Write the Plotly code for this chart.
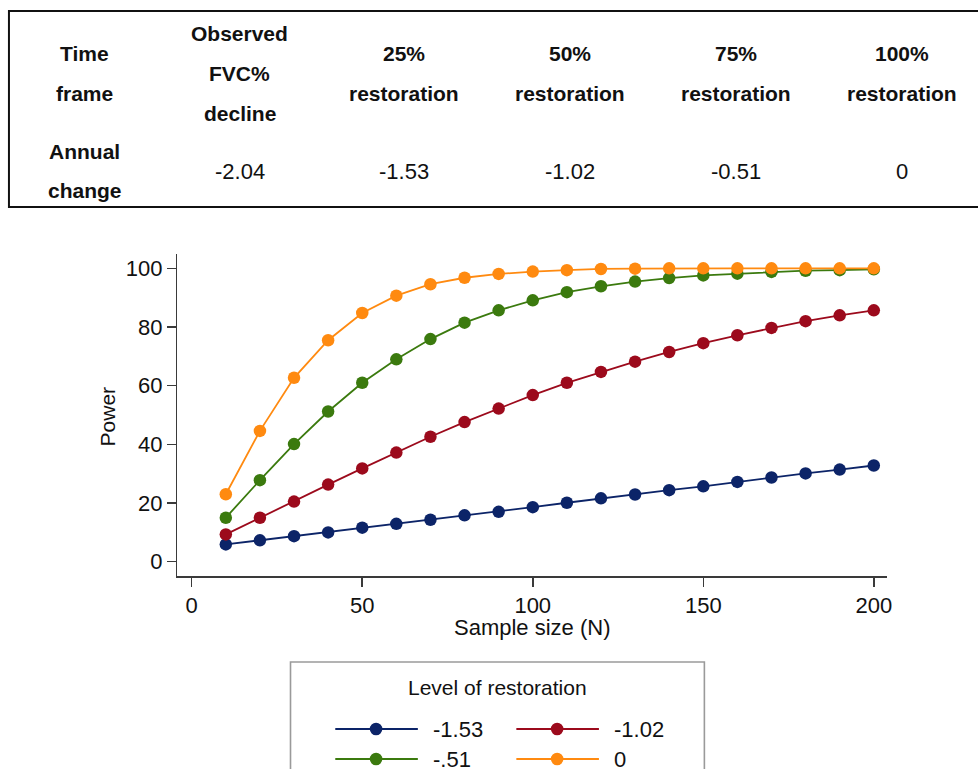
import plotly.graph_objects as go

# ---------------- data ----------------
table_headers = [
    ["Time", "frame"],
    ["Observed", "FVC%", "decline"],
    ["25%", "restoration"],
    ["50%", "restoration"],
    ["75%", "restoration"],
    ["100%", "restoration"],
]
row_label = ["Annual", "change"]
annual_change = ["-2.04", "-1.53", "-1.02", "-0.51", "0"]

sample_size = [10, 20, 30, 40, 50, 60, 70, 80, 90, 100,
               110, 120, 130, 140, 150, 160, 170, 180, 190, 200]
power_m153 = [5.9, 7.3, 8.7, 10.0, 11.6, 12.9, 14.3, 15.8, 17.0, 18.6,
              20.1, 21.6, 22.9, 24.4, 25.7, 27.2, 28.7, 30.1, 31.4, 32.8]
power_m102 = [9.3, 15.0, 20.5, 26.3, 31.8, 37.2, 42.6, 47.6, 52.2, 56.8,
              61.0, 64.7, 68.2, 71.5, 74.5, 77.2, 79.7, 82.0, 84.0, 85.7]
power_m051 = [15.0, 27.8, 40.1, 51.2, 61.0, 69.0, 75.9, 81.5, 85.7, 89.1,
              91.9, 93.9, 95.5, 96.7, 97.6, 98.2, 98.8, 99.2, 99.4, 99.7]
power_0 = [23.0, 44.6, 62.7, 75.5, 84.8, 90.7, 94.6, 96.8, 98.1, 98.9,
           99.4, 99.8, 99.9, 100.0, 100.0, 100.0, 100.0, 100.0, 100.0, 100.0]

series_labels = ["-1.53", "-1.02", "-.51", "0"]
series_values = [power_m153, power_m102, power_m051, power_0]
series_colors = ["#0c2468", "#9c0a1c", "#3b7a0e", "#ff8a10"]

x_ticks = [0, 50, 100, 150, 200]
y_ticks = [0, 20, 40, 60, 80, 100]

# ---------------- layout helpers ----------------
W, H = 978, 769
FONT = "Liberation Sans, Arial, Helvetica, sans-serif"
TXT = "#111111"
AX = "#3a3a3a"


def px(x):
    return x / W


def py(y):
    return 1 - y / H


fig = go.Figure()

for lab, vals, col in zip(series_labels, series_values, series_colors):
    fig.add_trace(go.Scatter(
        x=sample_size, y=vals, mode="lines+markers", name=lab,
        line=dict(color=col, width=1.8),
        marker=dict(color=col, size=12.5),
        showlegend=False, cliponaxis=False,
    ))

annotations = []
shapes = []

# ---------------- custom legend ----------------
leg_pos = [(337, 729), (519, 729), (337, 759), (519, 759)]
R = 6.3
for (lx, ly), lab, col in zip(leg_pos, series_labels, series_colors):
    shapes.append(dict(type="line", xref="paper", yref="paper",
                       x0=px(lx), x1=px(lx + 83), y0=py(ly), y1=py(ly),
                       line=dict(color=col, width=1.8)))
    cx = lx + 41
    shapes.append(dict(type="circle", xref="paper", yref="paper",
                       x0=px(cx - R), x1=px(cx + R), y0=py(ly + R), y1=py(ly - R),
                       fillcolor=col, line=dict(color=col, width=0)))
    annotations.append(dict(x=px(lx + 96), y=py(ly), xref="paper", yref="paper",
                            text=lab, showarrow=False, xanchor="left", yanchor="middle",
                            font=dict(family=FONT, size=22, color=TXT)))
annotations.append(dict(x=px(500), y=py(687), xref="paper", yref="paper",
                        text="Level of restoration", showarrow=False,
                        xanchor="center", yanchor="middle",
                        font=dict(family=FONT, size=21, color=TXT)))
shapes.append(dict(type="rect", xref="paper", yref="paper",
                   x0=px(292), x1=px(708), y0=py(800), y1=py(662),
                   line=dict(color="#9a9a9a", width=1.6), fillcolor="rgba(0,0,0,0)"))

# ---------------- table ----------------
col_centers = [85, 241, 406, 573, 740, 907]
for ci, lines in enumerate(table_headers):
    ys = [33, 73, 113] if len(lines) == 3 else [53, 93]
    for t, yy in zip(lines, ys):
        annotations.append(dict(x=px(col_centers[ci]), y=py(yy), xref="paper", yref="paper",
                                text="<b>%s</b>" % t, showarrow=False,
                                xanchor="center", yanchor="middle",
                                font=dict(family=FONT, size=21, color=TXT)))
for t, yy in zip(row_label, [152, 190]):
    annotations.append(dict(x=px(col_centers[0]), y=py(yy), xref="paper", yref="paper",
                            text="<b>%s</b>" % t, showarrow=False,
                            xanchor="center", yanchor="middle",
                            font=dict(family=FONT, size=21, color=TXT)))
for ci, v in enumerate(annual_change):
    annotations.append(dict(x=px(col_centers[ci + 1]), y=py(171), xref="paper", yref="paper",
                            text=v, showarrow=False, xanchor="center", yanchor="middle",
                            font=dict(family=FONT, size=22, color=TXT)))
shapes += [
    dict(type="line", xref="paper", yref="paper", x0=px(9), x1=px(990), y0=py(11), y1=py(11),
         line=dict(color="#111", width=2)),
    dict(type="line", xref="paper", yref="paper", x0=px(9), x1=px(990), y0=py(207), y1=py(207),
         line=dict(color="#111", width=2)),
    dict(type="line", xref="paper", yref="paper", x0=px(9), x1=px(9), y0=py(10), y1=py(208),
         line=dict(color="#111", width=2)),
]

# axis titles
annotations.append(dict(x=px(535), y=py(627), xref="paper", yref="paper",
                        text="Sample size (N)", showarrow=False,
                        xanchor="center", yanchor="middle",
                        font=dict(family=FONT, size=22, color=TXT)))
annotations.append(dict(x=px(108), y=py(416), xref="paper", yref="paper",
                        text="Power", textangle=-90, showarrow=False,
                        xanchor="center", yanchor="middle",
                        font=dict(family=FONT, size=21, color=TXT)))

fig.update_layout(
    width=W, height=H,
    margin=dict(l=0, r=0, t=0, b=0),
    paper_bgcolor="white", plot_bgcolor="white",
    showlegend=False,
    font=dict(family=FONT, color=TXT),
    xaxis=dict(domain=[px(178.3), px(892)], range=[-4.2, 204.0],
               tickvals=x_ticks, ticks="outside", ticklen=9, tickwidth=1.5,
               tickcolor=AX, showline=True, linecolor=AX, linewidth=1.5,
               showgrid=False, zeroline=False,
               tickfont=dict(family=FONT, size=22, color=TXT)),
    yaxis=dict(domain=[py(576), py(254)], range=[-4.87, 104.9],
               tickvals=y_ticks, ticks="outside", ticklen=9, tickwidth=1.5,
               tickcolor=AX, showline=True, linecolor=AX, linewidth=1.5,
               showgrid=False, zeroline=False,
               tickfont=dict(family=FONT, size=22, color=TXT)),
    annotations=annotations,
    shapes=shapes,
)

fig.write_html(
    "out.html",
    config={"displayModeBar": False, "staticPlot": True},
    post_script="document.body.style.margin='0px';document.body.style.overflow='hidden';",
)
